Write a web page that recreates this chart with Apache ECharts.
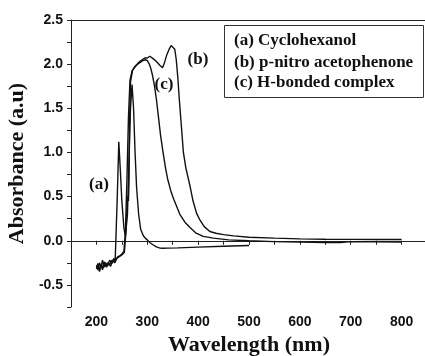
<!DOCTYPE html>
<html>
<head>
<meta charset="utf-8">
<script src="https://cdn.jsdelivr.net/npm/echarts@6/dist/echarts.min.js"></script>
<style>
html,body{margin:0;padding:0;background:#fff;}
#chart{width:425px;height:356px;}
</style>
</head>
<body>
<div id="chart"></div>
<script>
// (a) Cyclohexanol
var aWl  = [200,203,206,209,212,215,218,222,226,230,234,237,239,241,244,247,250,254,257,261,264,267,270,273,276,279,283,287,292,296,300,305,311,318,325,330,340,360,400,450,500];
var aAbs = [-0.30,-0.26,-0.34,-0.27,-0.31,-0.24,-0.29,-0.25,-0.27,-0.22,-0.24,-0.20,-0.18,0.50,1.12,0.80,0.45,0.15,0.05,0.30,0.90,1.50,1.77,1.50,1.00,0.60,0.30,0.13,0.06,0.03,0.01,-0.02,-0.045,-0.07,-0.083,-0.085,-0.083,-0.080,-0.072,-0.062,-0.053];
// (b) p-nitro acetophenone
var bWl  = [200,203,206,209,212,215,218,222,226,230,234,238,242,246,250,254,257,260,263,266,270,275,280,285,290,295,300,305,308,312,318,324,330,334,338,343,347,350,354,357,360,363,367,371,376,380,384,390,397,404,412,423,435,450,470,500,550,600,650,700,750,800];
var bAbs = [-0.28,-0.33,-0.25,-0.30,-0.22,-0.30,-0.25,-0.28,-0.22,-0.26,-0.20,-0.22,-0.18,-0.17,-0.15,-0.12,0.10,0.70,1.40,1.82,1.92,1.97,2.00,2.03,2.05,2.07,2.07,2.09,2.11,2.06,2.03,1.99,1.96,2.02,2.10,2.17,2.21,2.20,2.17,2.05,1.85,1.60,1.30,1.00,0.82,0.72,0.62,0.45,0.31,0.23,0.16,0.105,0.085,0.07,0.055,0.04,0.03,0.022,0.018,0.016,0.015,0.015];
// (c) H-bonded complex
var cWl  = [200,203,206,209,212,216,220,224,228,232,236,240,245,250,255,258,261,263,264,265,267,271,276,281,286,291,296,300,304,307,310,314,318,322,326,331,336,340,346,352,364,374,384,395,410,430,460,500,550,600,650,680,700,750,800];
var cAbs = [-0.32,-0.26,-0.35,-0.27,-0.33,-0.24,-0.30,-0.26,-0.29,-0.22,-0.25,-0.20,-0.18,-0.16,-0.13,0.10,0.50,0.45,0.65,1.30,1.80,1.93,1.97,2.00,2.02,2.04,2.05,2.04,2.00,1.95,1.88,1.76,1.60,1.40,1.20,1.00,0.82,0.70,0.57,0.47,0.30,0.21,0.15,0.09,0.05,0.03,0.01,0.00,-0.01,-0.015,-0.02,-0.02,-0.01,-0.012,-0.015];

var legendLines = ['(a) Cyclohexanol', '(b) p-nitro acetophenone', '(c) H-bonded complex'];
var curveTags = ['(a)', '(b)', '(c)'];
var xTitle = 'Wavelength (nm)';
var yTitle = 'Absorbance (a.u)';

function pairs(xs, ys){ return xs.map(function(x,i){ return [x, ys[i]]; }); }

var chart = echarts.init(document.getElementById('chart'), null, {renderer:'canvas'});
var lineStyle = {color:'#111', width:1.4};
var serif = '"Liberation Serif","Times New Roman",serif';
var sans = '"Liberation Sans",Arial,sans-serif';

chart.setOption({
  animation:false,
  backgroundColor:'#fff',
  grid:{left:71, top:20, right:-2, bottom:49, containLabel:false, outerBoundsMode:'none'},
  xAxis:[{
    type:'value', min:150, max:850, interval:50, position:'bottom',
    name:xTitle, nameLocation:'middle', nameGap:26,
    nameTextStyle:{fontFamily:serif, fontWeight:'bold', fontSize:22, color:'#111'},
    axisLine:{show:true, lineStyle:{color:'#222', width:1}},
    axisTick:{show:true, inside:false, length:4, lineStyle:{color:'#222'}},
    axisLabel:{fontFamily:sans, fontWeight:'bold', fontSize:14, color:'#111', margin:8,
      formatter:function(v){ return (v%100===0 && v>=200 && v<=800) ? String(v) : ''; }},
    splitLine:{show:false}
  },{
    type:'value', min:150, max:850, position:'top',
    axisLine:{show:true, lineStyle:{color:'#222', width:1}},
    axisTick:{show:false}, axisLabel:{show:false}, splitLine:{show:false}
  }],
  yAxis:{
    type:'value', min:-0.75, max:2.5, interval:0.25,
    name:yTitle, nameLocation:'middle', nameGap:42, nameRotate:90,
    nameTextStyle:{fontFamily:serif, fontWeight:'bold', fontSize:22, color:'#111'},
    axisLine:{show:true, lineStyle:{color:'#222', width:1}},
    axisTick:{show:true, inside:false, length:4, lineStyle:{color:'#222'}},
    axisLabel:{fontFamily:sans, fontWeight:'bold', fontSize:14, color:'#111', margin:8,
      formatter:function(v){ var r=Math.round(v*100); return (r%50===0) ? v.toFixed(1) : ''; }},
    splitLine:{show:false}
  },
  series:[
    {name:legendLines[0], type:'line', data:pairs(aWl,aAbs), showSymbol:false, lineStyle:lineStyle, xAxisIndex:0},
    {name:legendLines[1], type:'line', data:pairs(bWl,bAbs), showSymbol:false, lineStyle:lineStyle, xAxisIndex:0},
    {name:legendLines[2], type:'line', data:pairs(cWl,cAbs), showSymbol:false, lineStyle:lineStyle, xAxisIndex:0}
  ],
  graphic:[
    {type:'rect', shape:{x:224.5, y:25.5, width:199, height:72}, style:{fill:'#fff', stroke:'#333', lineWidth:1}, z:10},
    {type:'text', x:234, y:40.7, z:11, style:{text:legendLines[0], font:'bold 17px '+serif, fill:'#111', textVerticalAlign:'middle'}},
    {type:'text', x:234, y:62.3, z:11, style:{text:legendLines[1], font:'bold 17px '+serif, fill:'#111', textVerticalAlign:'middle'}},
    {type:'text', x:234, y:82.3, z:11, style:{text:legendLines[2], font:'bold 17px '+serif, fill:'#111', textVerticalAlign:'middle'}},
    {type:'text', x:99, y:185, z:11, style:{text:curveTags[0], font:'bold 17px '+serif, fill:'#111', textAlign:'center', textVerticalAlign:'middle'}},
    {type:'text', x:198, y:60, z:11, style:{text:curveTags[1], font:'bold 17px '+serif, fill:'#111', textAlign:'center', textVerticalAlign:'middle'}},
    {type:'text', x:164, y:85, z:11, style:{text:curveTags[2], font:'bold 17px '+serif, fill:'#111', textAlign:'center', textVerticalAlign:'middle'}}
  ]
});
</script>
</body>
</html>
